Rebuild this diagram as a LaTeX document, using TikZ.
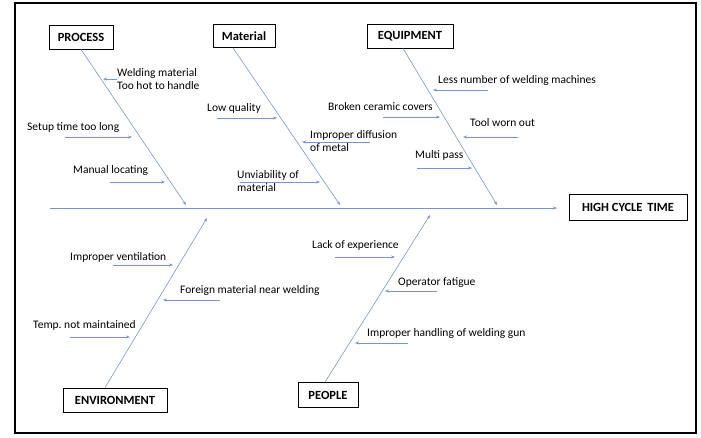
\documentclass[tikz,border=0pt]{standalone}
\usepackage{fontspec}
\setmainfont{Carlito}
\usepackage{tikz}
\usetikzlibrary{arrows.meta, positioning}

\definecolor{bonecol}{RGB}{120,150,205}

\begin{document}
\begin{tikzpicture}[x=1pt, y=-1pt,
    catbox/.style={draw, thick, inner sep=3pt, font=\fontsize{12.5}{13}\selectfont\bfseries},
    cause/.style={font=\fontsize{11.5}{13}\selectfont, inner sep=0pt, anchor=west, align=left},
    bone/.style={draw=bonecol, line width=0.6pt, -{Stealth[length=4pt, width=3pt]}},
    sub/.style={draw=bonecol, line width=0.5pt, -{Stealth[length=4pt, width=3pt]}}]
  \useasboundingbox (0,0) rectangle (701,437);
  \draw[line width=1.6pt] (15,3) rectangle (696,433);

  % categories and effect
  \node[catbox, minimum width=64pt, minimum height=24pt] (proc) at (81,37) {PROCESS};
  \node[catbox, minimum width=62pt, minimum height=23pt] (mat) at (244,36) {Material};
  \node[catbox, minimum width=86pt, minimum height=24pt] (equip) at (410,36) {EQUIPMENT};
  \node[catbox, minimum width=104pt, minimum height=24pt] (env) at (115,400) {ENVIRONMENT};
  \node[catbox, minimum width=60pt, minimum height=25pt] (ppl) at (328,395) {PEOPLE};
  \node[catbox, minimum width=118pt, minimum height=26pt] (effect) at (628,207) {HIGH CYCLE\, TIME};

  % spine and bones
  \coordinate (tail) at (50,208);
  \coordinate (head) at (557,208);
  \coordinate (pe) at (186,205);
  \coordinate (me) at (340,205);
  \coordinate (ee) at (497,205);
  \coordinate (ve) at (207,218);
  \coordinate (ple) at (430,215);
  \path[bone] (tail) -- (head);
  \path[bone] (proc.south) -- (pe);
  \path[bone] ([xshift=-11pt]mat.south) -- (me);
  \path[bone] ([xshift=-7pt]equip.south) -- (ee);
  \path[bone] ([xshift=-10pt]env.north) -- (ve);
  \path[bone] ([xshift=-3pt]ppl.north) -- (ple);

  % process causes
  \node[cause] (p1) at (117,79) {Welding material\\Too hot to handle};
  \node[cause] (p2) at (27,127) {Setup time too long};
  \node[cause] (p3) at (73,170) {Manual locating};
  \path[sub] (p1.west) -- (103,79);
  \path[sub] (65,137) -- (132,137);
  \path[sub] (110,182) -- (165,182);

  % material causes
  \node[cause] (m1) at (207,108) {Low quality};
  \node[cause] (m2) at (310,141) {Improper diffusion\\of metal};
  \node[cause] (m3) at (237,181) {Unviability of\\material};
  \path[sub] (217,118) -- (277,118);
  \path[sub] (370,142) -- (302,142);
  \path[sub] (240,182) -- (320,182);

  % equipment causes
  \node[cause] (e1) at (438,80) {Less number of welding machines};
  \node[cause] (e2) at (328,107) {Broken ceramic covers};
  \node[cause] (e3) at (470,123) {Tool worn out};
  \node[cause] (e4) at (415,155) {Multi pass};
  \path[sub] (488,90) -- (433,90);
  \path[sub] (383,117) -- (440,117);
  \path[sub] (518,137) -- (463,137);
  \path[sub] (417,168) -- (472,168);

  % environment causes
  \node[cause] (v1) at (70,257) {Improper ventilation};
  \node[cause] (v2) at (180,290) {Foreign material near welding};
  \node[cause] (v3) at (33,325) {Temp.\ not maintained};
  \path[sub] (113,265) -- (173,265);
  \path[sub] (220,300) -- (163,300);
  \path[sub] (70,337) -- (130,337);

  % people causes
  \node[cause] (h1) at (312,245) {Lack of experience};
  \node[cause] (h2) at (398,283) {Operator fatigue};
  \node[cause] (h3) at (367,333) {Improper handling of welding gun};
  \path[sub] (335,257) -- (395,257);
  \path[sub] (437,291) -- (385,291);
  \path[sub] (408,343) -- (355,343);
\end{tikzpicture}
\end{document}
